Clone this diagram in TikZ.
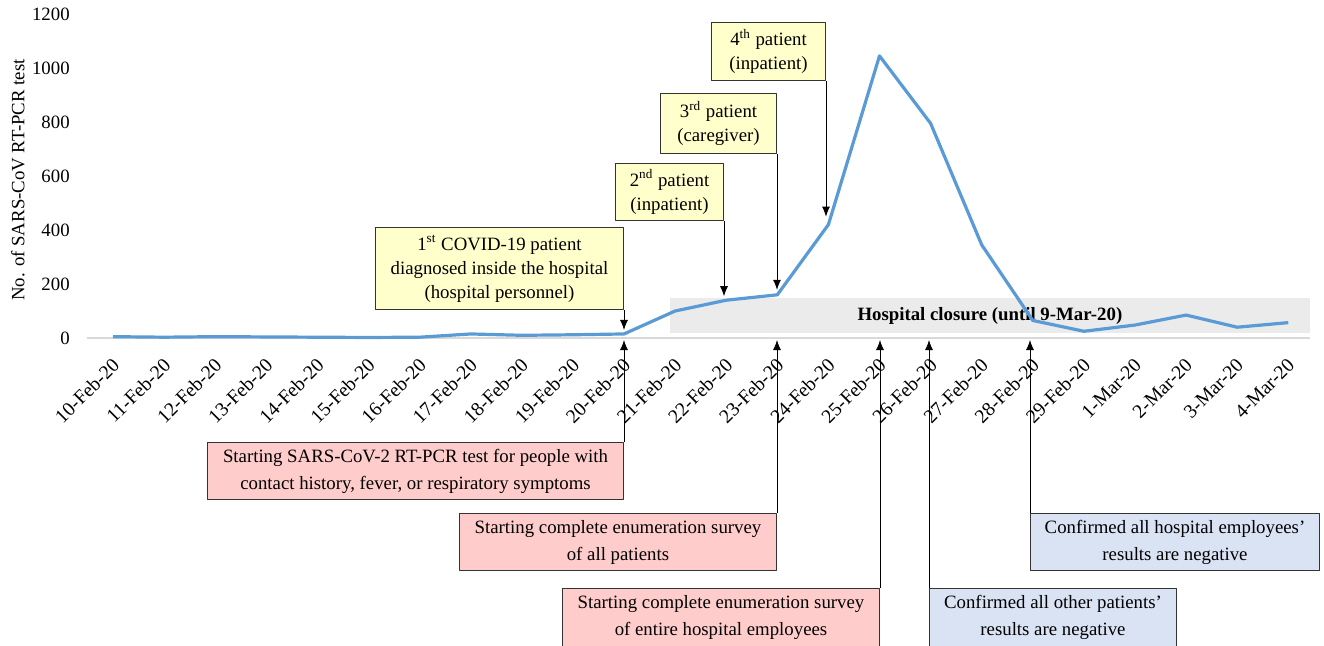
\documentclass[tikz,border=0pt]{standalone}
\usepackage{fontspec}
\setmainfont{Liberation Serif}
\usetikzlibrary{arrows.meta}
\definecolor{testblue}{HTML}{5B9BD5}
\definecolor{noteyellow}{HTML}{FFFFCC}
\definecolor{notepink}{HTML}{FFCCCC}
\definecolor{noteblue}{HTML}{DAE3F3}
\definecolor{closuregray}{HTML}{EBEBEB}
\tikzset{
  note/.style={draw=black!80, line width=0.5pt, inner sep=0pt, align=center, font=\fontsize{9.4}{12}\selectfont},
  patient/.style={note, fill=noteyellow},
  startnote/.style={note, fill=notepink, font=\fontsize{9.4}{13.5}\selectfont},
  donenote/.style={note, fill=noteblue, font=\fontsize{9.4}{13.5}\selectfont},
  datelab/.style={rotate=45, anchor=north east, inner sep=0.5pt, font=\fontsize{9.8}{11}\selectfont},
}
\begin{document}
\begin{tikzpicture}[x=0.5pt, y=-0.5pt, >={Latex[length=5pt,width=4pt]}, font=\fontsize{9.4}{11}\selectfont, line join=round]
	\useasboundingbox (0,0) rectangle (1324,645);
	% chart
	\begin{scope}[shift={(113,338)}, x=25.55pt, y=0.135pt]
		\node[fill=closuregray, minimum width=320pt, minimum height=17.5pt, font=\fontsize{9.4}{11}\selectfont\bfseries] (closure) at (17.16,83) {Hospital closure (until 9-Mar-20)};
		\draw[black!15, line width=0.75pt] (-0.51,0) -- (23.42,0);
		\foreach \v in {0,200,...,1200}
			\node[anchor=east, inner sep=0pt] (tick\v) at (-0.84,\v) {\v};
		\foreach \d [count=\i from 0] in {10-Feb-20,11-Feb-20,12-Feb-20,13-Feb-20,14-Feb-20,15-Feb-20,16-Feb-20,17-Feb-20,18-Feb-20,19-Feb-20,20-Feb-20,21-Feb-20,22-Feb-20,23-Feb-20,24-Feb-20,25-Feb-20,26-Feb-20,27-Feb-20,28-Feb-20,29-Feb-20,1-Mar-20,2-Mar-20,3-Mar-20,4-Mar-20}
		{
			\coordinate (t\i) at (\i,0);
			\node[datelab] (day\i) at ([xshift=-1pt,yshift=-8.5pt]t\i) {\d};
		}
		\foreach \n [count=\i from 0] in {5,3,5,4,3,2,3,15,10,12,15,100,140,160,420,1045,795,345,65,25,48,85,40,57}
			\coordinate (v\i) at (\i,\n);
		\draw[testblue, line width=1.6pt] (v0) \foreach \i in {1,...,23} { -- (v\i) };
	\end{scope}
	\node[rotate=90] (ylab) at (18,180) {No. of SARS-CoV RT-PCR test};
	% patients
	\node[patient, minimum width=124pt, minimum height=41pt, anchor=south east] (pat1) at (624,310) {1\textsuperscript{st} COVID-19 patient\\diagnosed inside the hospital\\(hospital personnel)};
	\node[patient, minimum width=54pt, minimum height=28.5pt, anchor=south east] (pat2) at (724,221) {2\textsuperscript{nd} patient\\(inpatient)};
	\node[patient, minimum width=58pt, minimum height=30pt, anchor=south east] (pat3) at (777,154) {3\textsuperscript{rd} patient\\(caregiver)};
	\node[patient, minimum width=57pt, minimum height=29pt, anchor=south east] (pat4) at (826,81) {4\textsuperscript{th} patient\\(inpatient)};
	\draw[->, shorten >=2pt] (pat1.south east) -- (pat1.south east |- v10);
	\draw[->, shorten >=2pt] (pat2.south east) -- (pat2.south east |- v12);
	\draw[->, shorten >=2.5pt] (pat3.south east) -- (pat3.south east |- v13);
	\draw[->, shorten >=4pt] (pat4.south east) -- (pat4.south east |- v14);
	% measures
	\node[startnote, minimum width=208pt, minimum height=28.5pt, anchor=north east] (start1) at (624,442) {Starting SARS-CoV-2 RT-PCR test for people with\\contact history, fever, or respiratory symptoms};
	\node[startnote, minimum width=158.5pt, minimum height=28.5pt, anchor=north east] (start2) at (777,513) {Starting complete enumeration survey\\of all patients};
	\node[startnote, minimum width=158.5pt, minimum height=29pt, anchor=north east] (start3) at (880,588) {Starting complete enumeration survey\\of entire hospital employees};
	\node[donenote, minimum width=123.5pt, minimum height=29pt, anchor=north west] (done1) at (929,588) {Confirmed all other patients'\\results are negative};
	\node[donenote, minimum width=144.5pt, minimum height=28.5pt, anchor=north west] (done2) at (1030,513) {Confirmed all hospital employees'\\results are negative};
	\draw[->, shorten >=1pt] (start1.north east) -- (start1.north east |- t10);
	\draw[->, shorten >=1pt] (start2.north east) -- (start2.north east |- t13);
	\draw[->, shorten >=1pt] (start3.north east) -- (start3.north east |- t15);
	\draw[->, shorten >=1pt] (done1.north west) -- (done1.north west |- t16);
	\draw[->, shorten >=1pt] (done2.north west) -- (done2.north west |- t18);
\end{tikzpicture}
\end{document}
